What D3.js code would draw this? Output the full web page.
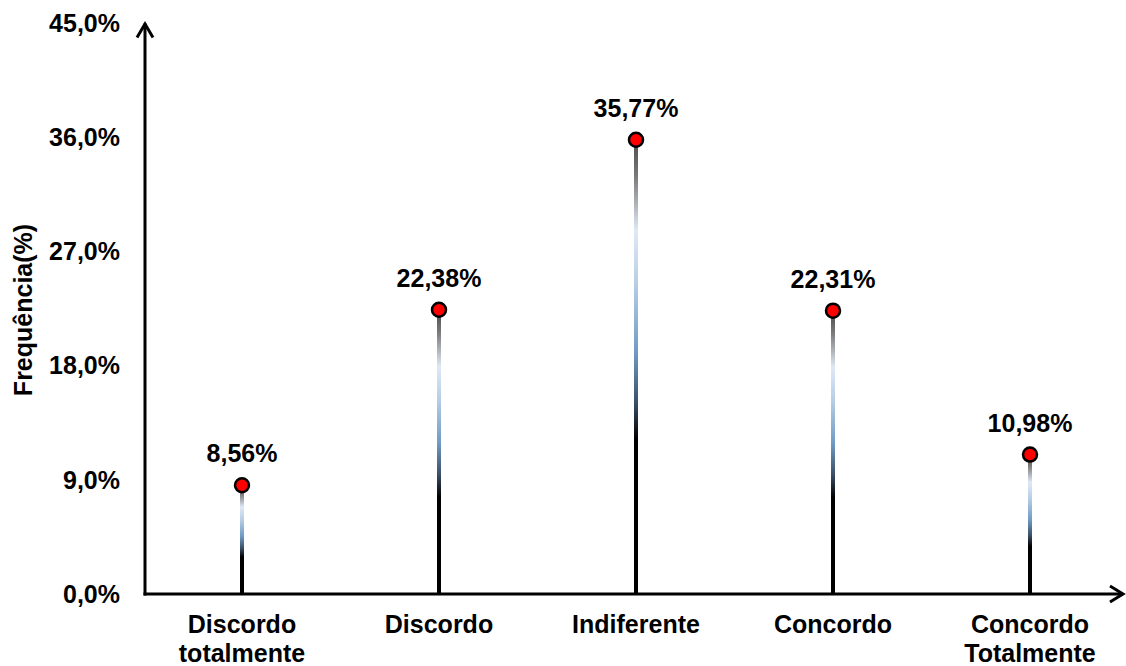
<!DOCTYPE html>
<html>
<head>
<meta charset="utf-8">
<script src="https://cdn.jsdelivr.net/npm/d3@7"></script>
<style>
  html, body { margin: 0; padding: 0; background: #fff; }
  svg { display: block; font-family: "Liberation Sans", Arial, sans-serif; font-weight: bold; }
</style>
</head>
<body>
<svg id="chart" width="1126" height="666"></svg>
<script>
// Response categories (each label may break into two lines)
const categories = [
  ["Discordo", "totalmente"],
  ["Discordo"],
  ["Indiferente"],
  ["Concordo"],
  ["Concordo", "Totalmente"]
];
// Frequency of each answer, in percent
const frequencies = [8.56, 22.38, 35.77, 22.31, 10.98];
// Y axis tick values, in percent
const yTicks = [0, 9, 18, 27, 36, 45];

const svg = d3.select("#chart");
const x0 = 145, yZero = 594, yTop = 22.5;
const fontSize = 25;

const x = d3.scaleBand()
  .domain(d3.range(categories.length))
  .range([x0 - 1.5, x0 - 1.5 + 197 * categories.length]);

const y = d3.scaleLinear().domain([0, 45]).range([yZero, yTop]);

const fmtComma = v => v.toFixed(1).replace(".", ",") + "%";
const fmtVal = v => v.toFixed(2).replace(".", ",") + "%";

// Gradient used for the lollipop stems (top to bottom)
const defs = svg.append("defs");
const grad = defs.append("linearGradient")
  .attr("id", "stemGrad")
  .attr("x1", 0).attr("y1", 0).attr("x2", 0).attr("y2", 1);
[
  [0, "#4a4a4a"],
  [0.08, "#7a7a7a"],
  [0.2, "#dfe9f5"],
  [0.32, "#b5cde5"],
  [0.47, "#6e9ac4"],
  [0.58, "#3a4f66"],
  [0.66, "#000000"],
  [1, "#000000"]
].forEach(([o, c]) => grad.append("stop").attr("offset", o).attr("stop-color", c));

// Y tick labels
svg.append("g")
  .selectAll("text")
  .data(yTicks)
  .join("text")
  .attr("x", 120)
  .attr("y", d => y(d))
  .attr("dy", "0.36em")
  .attr("text-anchor", "end")
  .attr("font-size", fontSize)
  .attr("fill", "#000")
  .text(fmtComma);

// Y axis title
svg.append("text")
  .attr("transform", `translate(32,${310}) rotate(-90)`)
  .attr("text-anchor", "middle")
  .attr("font-size", fontSize)
  .attr("fill", "#000")
  .text("Frequência(%)");

// Stems
const cx = i => x(i) + x.bandwidth() / 2;
svg.append("g")
  .selectAll("rect")
  .data(frequencies)
  .join("rect")
  .attr("x", (d, i) => cx(i) - 2)
  .attr("width", 4)
  .attr("y", d => y(d))
  .attr("height", d => yZero - y(d))
  .attr("fill", "url(#stemGrad)");

// Axes with arrowheads
const axes = svg.append("g").attr("stroke", "#000").attr("stroke-width", 3).attr("fill", "none");
axes.append("line").attr("x1", x0).attr("y1", yZero + 1.5).attr("x2", x0).attr("y2", yTop + 1);
axes.append("polyline").attr("points", `${x0 - 8},${yTop + 15} ${x0},${yTop + 1.5} ${x0 + 8},${yTop + 15}`)
  .attr("stroke-linejoin", "miter");
const xEnd = 1123;
axes.append("line").attr("x1", x0 - 1.5).attr("y1", yZero).attr("x2", xEnd).attr("y2", yZero);
axes.append("polyline").attr("points", `${xEnd - 13},${yZero - 8} ${xEnd},${yZero} ${xEnd - 13},${yZero + 8}`)
  .attr("stroke-linejoin", "miter");

// Dots
svg.append("g")
  .selectAll("circle")
  .data(frequencies)
  .join("circle")
  .attr("cx", (d, i) => cx(i))
  .attr("cy", d => y(d))
  .attr("r", 7)
  .attr("fill", "#ff0000")
  .attr("stroke", "#000")
  .attr("stroke-width", 2.5);

// Value labels
svg.append("g")
  .selectAll("text")
  .data(frequencies)
  .join("text")
  .attr("x", (d, i) => cx(i))
  .attr("y", d => y(d) - 23)
  .attr("text-anchor", "middle")
  .attr("font-size", fontSize)
  .attr("fill", "#000")
  .text(fmtVal);

// Category labels
const cat = svg.append("g")
  .selectAll("text")
  .data(categories)
  .join("text")
  .attr("text-anchor", "middle")
  .attr("font-size", fontSize)
  .attr("fill", "#000");
cat.selectAll("tspan")
  .data((d, i) => d.map(t => ({ t, i })))
  .join("tspan")
  .attr("x", d => cx(d.i))
  .attr("y", (d, j) => 633 + j * 28.5)
  .text(d => d.t);
</script>
</body>
</html>
